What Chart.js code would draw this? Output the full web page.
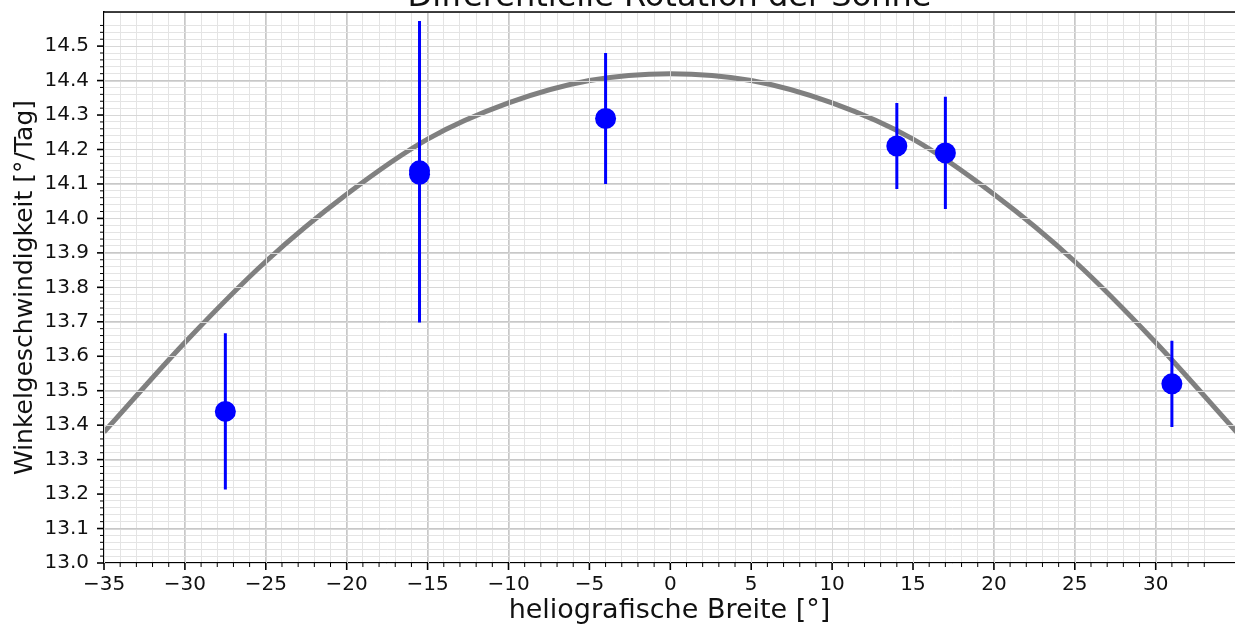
<!DOCTYPE html>
<html lang="de">
<head>
  <meta charset="UTF-8">
  <title>Differentielle Rotation der Sonne</title>
  <script src="https://cdn.jsdelivr.net/npm/chart.js"></script>
  <style>
    body {
      margin: 0;
      padding: 0;
      background: #fff;
    }
    .chart-box {
      width: 1235px;
      height: 627px;
    }
  </style>
</head>
<body>
  <div class="chart-box">
    <canvas id="rotChart"></canvas>
  </div>

  <script>
    // measured points: latitude (deg), angular velocity (deg/day), error
    const latitude = [-27.5, -15.5, -15.5, -4, 14, 17, 31];
    const omega = [13.44, 14.128, 14.138, 14.29, 14.21, 14.19, 13.52];
    const omegaErr = [0.227, 0.43, 0.435, 0.19, 0.125, 0.163, 0.125];

    // fit curve
    const fitLat = [-35, -30, -25, -20, -15, -10, -5, 0, 5, 10, 15, 20, 25, 30, 35];
    const fitOmega = [13.38, 13.64, 13.875, 14.07, 14.23, 14.335, 14.40, 14.42, 14.40, 14.335, 14.23, 14.07, 13.875, 13.64, 13.38];

    const titleText = 'Differentielle Rotation der Sonne';
    const xTitle = 'heliografische Breite [°]';
    const yTitle = 'Winkelgeschwindigkeit [°/Tag]';

    const majorGrid = 'rgb(200,200,200)';
    const minorGrid = 'rgb(228,228,228)';
    const fontFamily = '"DejaVu Sans", sans-serif';

    function onStep(v, step) {
      return Math.abs(v / step - Math.round(v / step)) < 1e-6;
    }
    const isMajorX = v => onStep(v, 5);
    const isMajorY = v => onStep(v, 0.1);

    const decor = {
      id: 'decor',
      afterDatasetDraw(chart, args) {
        // major grid lines run over the fit curve
        if (args.index !== 0) return;
        const { ctx, chartArea: a, scales: { x, y } } = chart;
        ctx.save();
        ctx.strokeStyle = 'rgb(215,215,215)';
        ctx.lineWidth = 1;
        ctx.beginPath();
        x.ticks.forEach(t => {
          if (!isMajorX(t.value)) return;
          const px = Math.round(x.getPixelForValue(t.value)) + 0.5;
          ctx.moveTo(px, a.top);
          ctx.lineTo(px, a.bottom);
        });
        y.ticks.forEach(t => {
          if (!isMajorY(t.value)) return;
          const py = Math.round(y.getPixelForValue(t.value)) + 0.5;
          ctx.moveTo(a.left, py);
          ctx.lineTo(a.right, py);
        });
        ctx.stroke();
        ctx.restore();
      },
      beforeDatasetDraw(chart, args) {
        // error bars below the markers
        if (args.index !== 1) return;
        const { ctx, scales: { x, y } } = chart;
        ctx.save();
        ctx.strokeStyle = '#0000ff';
        ctx.lineWidth = 3;
        ctx.beginPath();
        latitude.forEach((lat, i) => {
          const px = x.getPixelForValue(lat);
          ctx.moveTo(px, y.getPixelForValue(omega[i] - omegaErr[i]));
          ctx.lineTo(px, y.getPixelForValue(omega[i] + omegaErr[i]));
        });
        ctx.stroke();
        ctx.restore();
      },
      afterDraw(chart) {
        const { ctx, chartArea: a, scales: { x, y } } = chart;
        ctx.save();
        ctx.strokeStyle = '#000';
        // top spine
        ctx.lineWidth = 1.5;
        ctx.beginPath();
        ctx.moveTo(a.left, a.top);
        ctx.lineTo(a.right + 2, a.top);
        ctx.stroke();
        // tick marks, major and minor
        x.ticks.forEach(t => {
          if (!onStep(t.value, 1)) return;
          const major = isMajorX(t.value);
          const px = x.getPixelForValue(t.value);
          ctx.lineWidth = major ? 1.6 : 1;
          ctx.beginPath();
          ctx.moveTo(px, a.bottom);
          ctx.lineTo(px, a.bottom + (major ? 7 : 4));
          ctx.stroke();
        });
        y.ticks.forEach(t => {
          if (!onStep(t.value, 0.02)) return;
          const major = isMajorY(t.value);
          const py = y.getPixelForValue(t.value);
          ctx.lineWidth = major ? 1.6 : 1;
          ctx.beginPath();
          ctx.moveTo(a.left - (major ? 7 : 4), py);
          ctx.lineTo(a.left, py);
          ctx.stroke();
        });
        // title, cut at the top edge
        ctx.fillStyle = '#111';
        ctx.font = '32px ' + fontFamily;
        ctx.textAlign = 'center';
        ctx.textBaseline = 'alphabetic';
        ctx.fillText(titleText, (a.left + a.right) / 2, 6);
        ctx.restore();
      }
    };

    const rotChart = new Chart(document.getElementById('rotChart'), {
      type: 'scatter',
      data: {
        datasets: [
          {
            label: 'Fit',
            type: 'line',
            data: fitLat.map((v, i) => ({ x: v, y: fitOmega[i] })),
            borderColor: '#808080',
            borderWidth: 5,
            pointRadius: 0,
            cubicInterpolationMode: 'monotone',
            fill: false,
            order: 2
          },
          {
            label: 'Messwerte',
            data: latitude.map((v, i) => ({ x: v, y: omega[i] })),
            backgroundColor: '#0000ff',
            borderWidth: 0,
            pointRadius: 10.5,
            order: 1
          }
        ]
      },
      options: {
        responsive: true,
        maintainAspectRatio: false,
        animation: false,
        events: [],
        layout: { autoPadding: false, padding: { top: 12, right: 0, left: 0, bottom: 0 } },
        plugins: {
          legend: { display: false },
          tooltip: { enabled: false },
          title: { display: false }
        },
        scales: {
          x: {
            type: 'linear',
            min: -35,
            max: 34.9,
            afterFit(scale) {
              scale.height = 64;
              scale.paddingLeft = 0;
              scale.paddingRight = 0;
            },
            ticks: {
              stepSize: 1,
              autoSkip: false,
              maxRotation: 0,
              padding: 10,
              color: '#111',
              font: { family: fontFamily, size: 20 },
              callback: v => isMajorX(v) ? (v < 0 ? '\u2212' + Math.abs(v) : String(Math.round(v))) : ''
            },
            grid: {
              drawTicks: false,
              color: ctx => ctx.tick && isMajorX(ctx.tick.value) ? majorGrid : minorGrid,
              lineWidth: 1
            },
            border: { color: '#000', width: 1.5 },
            title: {
              display: true,
              text: xTitle,
              color: '#111',
              font: { family: fontFamily, size: 27 },
              padding: { top: 4, bottom: 0 }
            }
          },
          y: {
            type: 'linear',
            min: 13.0,
            max: 14.599,
            afterFit(scale) {
              scale.width = 104;
              scale.paddingTop = 0;
              scale.paddingBottom = 0;
            },
            ticks: {
              stepSize: 0.02,
              autoSkip: false,
              padding: 15,
              color: '#111',
              font: { family: fontFamily, size: 20 },
              callback: v => isMajorY(v) ? v.toFixed(1) : ''
            },
            grid: {
              drawTicks: false,
              color: ctx => ctx.tick && isMajorY(ctx.tick.value) ? majorGrid : minorGrid,
              lineWidth: 1
            },
            border: { color: '#000', width: 1.5 },
            title: {
              display: true,
              text: yTitle,
              color: '#111',
              font: { family: fontFamily, size: 25 },
              padding: { top: 10, bottom: 0 }
            }
          }
        }
      },
      plugins: [decor]
    });
  </script>
</body>
</html>
